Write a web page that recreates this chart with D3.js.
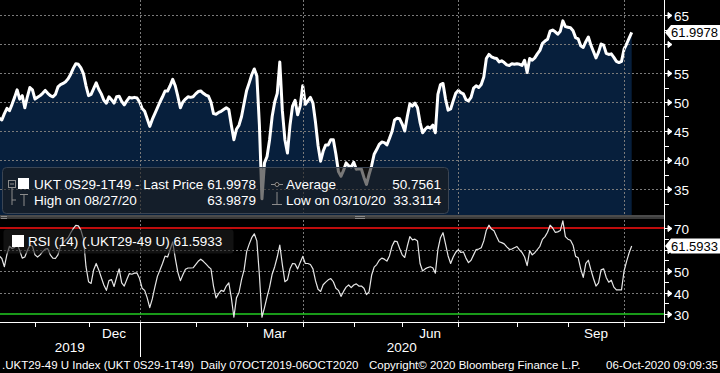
<!DOCTYPE html>
<html><head><meta charset="utf-8">
<script src="https://cdn.jsdelivr.net/npm/d3@7"></script>
<style>body{margin:0;background:#000;overflow:hidden}svg{display:block}text{font-family:"Liberation Sans",Arial,sans-serif}</style>
</head><body>
<svg id="c" width="720" height="373"></svg>
<script>
// ---------- data ----------
const startDate = "2019-10-07";
const endDate = "2020-10-06";
const ukHolidays = ["2019-12-25","2019-12-26","2020-01-01","2020-04-10","2020-04-13","2020-05-08","2020-05-25","2020-08-31"];

const price = [
47.5,47.0,48.0,47.3,47.8,47.2,46.9,48.0,48.9,48.5,
49.6,50.8,52.1,50.5,51.1,49.0,50.9,52.5,52.1,50.5,
50.8,51.1,51.5,52.0,51.5,51.1,50.9,51.3,52.6,53.0,
53.2,53.5,54.0,54.8,55.8,56.6,56.5,55.9,54.9,52.8,
51.1,51.3,52.3,53.3,52.2,51.4,50.3,49.8,50.9,50.4,
49.8,50.9,51.0,50.1,49.5,50.2,50.8,50.7,50.8,50.7,
50.0,48.9,48.4,47.1,45.8,47.0,48.0,49.0,50.0,50.9,
51.9,51.9,52.8,53.9,52.8,51.0,49.0,50.0,50.5,50.9,
50.8,50.9,51.4,51.8,51.9,51.5,51.2,51.0,50.0,48.0,
47.9,48.2,48.4,48.7,49.0,48.7,46.0,43.5,45.3,46.0,
47.5,49.8,52.0,53.3,54.7,55.7,54.5,46.0,33.3114,39.5,
40.6,43.5,47.5,50.0,51.5,56.9,48.5,43.5,41.2,46.0,
49.3,50.3,47.8,49.3,52.8,49.6,50.2,50.8,49.8,46.5,
42.5,39.8,41.5,42.6,42.6,43.5,43.5,41.0,38.0,37.2,
38.2,39.5,39.0,38.8,39.6,38.4,38.5,38.4,37.0,35.8,
37.5,39.0,41.0,41.8,42.7,43.1,43.0,42.6,43.7,44.9,
46.9,47.2,47.1,46.2,45.0,47.5,49.7,49.3,49.8,49.0,
46.5,44.7,45.3,45.7,45.5,46.0,44.7,51.3,53.0,53.2,
50.5,48.6,48.8,50.2,51.5,52.0,51.6,51.4,50.4,50.2,
50.8,52.4,52.8,52.5,53.0,54.3,57.5,58.2,57.8,57.6,
57.5,56.9,57.1,56.8,56.4,56.3,56.6,56.5,56.6,56.5,
56.3,57.2,55.1,57.5,57.2,57.6,58.3,58.9,60.1,60.5,
60.8,62.2,62.4,62.1,61.7,62.2,63.9879,63.0,62.9,62.8,
62.3,61.1,60.9,59.7,59.4,60.4,61.2,59.8,58.7,57.6,
58.6,60.0,59.8,58.4,58.2,58.3,57.7,57.0,56.8,57.0,
59.1,60.0,61.0,61.9978];

const rsi = [
55.0,57.0,54.0,58.0,56.0,57.0,55.8,52.0,57.7,61.5,
60.5,61.0,62.5,59.5,56.0,56.5,59.5,62.0,61.5,57.5,
56.5,57.5,59.0,60.2,60.4,57.5,56.0,55.8,57.5,61.5,
63.1,64.3,65.5,67.8,69.7,71.2,71.0,69.0,65.0,52.0,
45.0,44.2,50.5,53.5,50.5,47.0,43.5,41.0,45.5,46.0,
42.8,47.0,51.0,44.5,43.0,46.0,48.8,48.5,49.0,49.1,
46.5,42.0,41.0,37.5,33.0,37.0,42.5,47.5,50.5,53.5,
56.9,56.5,60.0,63.5,56.0,49.5,45.5,48.3,50.8,51.4,
51.4,51.5,53.0,54.5,55.5,54.5,53.3,52.0,51.0,43.0,
37.5,39.5,41.0,40.5,43.0,44.5,37.5,28.5,37.5,40.0,
46.0,50.5,59.0,62.5,65.5,67.3,64.0,48.0,28.5,33.0,
38.0,42.5,48.5,52.0,56.5,62.0,53.0,45.0,45.9,51.0,
53.5,53.3,51.0,54.0,56.8,53.5,53.5,53.0,51.0,45.5,
41.5,40.5,43.6,44.8,45.9,46.5,45.0,42.0,41.0,38.2,
40.5,42.5,43.5,42.3,43.5,44.0,43.0,43.0,42.0,39.0,
40.3,48.0,51.8,53.0,55.0,56.0,55.5,54.6,57.0,61.5,
63.9,63.7,60.5,57.5,56.3,61.5,66.0,64.5,64.8,64.0,
53.5,50.0,51.0,51.6,52.0,51.5,49.0,60.0,65.5,67.8,
62.5,57.0,53.5,56.5,58.7,59.9,58.6,58.9,56.0,53.9,
55.0,57.5,60.0,60.2,60.8,64.0,69.0,71.3,69.5,68.7,
66.0,63.6,63.2,62.6,61.2,60.1,60.2,60.8,61.4,59.8,
58.6,56.5,52.5,59.5,57.5,58.5,60.0,61.5,64.7,66.0,
68.0,71.3,70.0,68.0,68.2,68.8,73.3,66.0,64.8,64.3,
62.0,56.8,56.2,51.0,47.0,53.5,55.0,50.5,46.5,43.0,
44.5,50.5,51.0,47.0,44.8,45.7,42.5,41.2,41.2,41.2,
50.0,54.5,58.5,61.5933];

const priceMajorTicks = [35,40,45,50,55,60,65];
const priceMinorTicks = [32.5,37.5,42.5,47.5,52.5,57.5,62.5];
const rsiMajorTicks = [30,40,50,60,70];
const rsiMinorTicks = [35,45,55,65];
const rsiGrid = [40,50,60];
const monthLabels = ["Dec","Mar","Jun","Sep"];
const quarterMonths = ["Jan","Apr","Jul","Oct"];
const yearLabels = ["2019","2020"];
const legendTop = {name:"UKT 0S29-1T49 - Last Price", last:"61.9978", avgLabel:"Average", avg:"50.7561",
  highLabel:"High on 08/27/20", high:"63.9879", lowLabel:"Low on 03/10/20", low:"33.3114"};
const rsiLegend = "RSI (14) (.UKT29-49 U) 61.5933";
const lastPrice = 61.9978, lastRsi = 61.5933;
const footerLeft = ".UKT29-49 U Index (UKT 0S29-1T49)  Daily 07OCT2019-06OCT2020";
const footerMid = "Copyright\u00A9 2020 Bloomberg Finance L.P.";
const footerRight = "06-Oct-2020 09:09:35";

// ---------- layout ----------
const axisX = 664, topBottom = 215, rsiTop = 219, rsiBottom = 322;
const parse = d3.utcParse("%Y-%m-%d"), fmt = d3.utcFormat("%Y-%m-%d");
const days = d3.utcDay.range(parse(startDate), d3.utcDay.offset(parse(endDate), 1))
  .filter(d => d.getUTCDay() % 6 !== 0 && !ukHolidays.includes(fmt(d)));
const keys = days.map(fmt);

const x = d3.scalePoint().domain(keys).range([-13.45, 631.7]);
const yP = d3.scaleLinear().domain([35, 65]).range([189, 15]);
const yR = d3.scaleLinear().domain([30, 70]).range([314, 228]);

const monthFirst = d3.groups(days, d => d3.utcFormat("%Y-%m")(d)).map(([k, arr]) => arr[0]);
const mName = d3.utcFormat("%b");

const svg = d3.select("#c");
svg.append("rect").attr("width", 720).attr("height", 373).attr("fill", "#000");
const defs = svg.append("defs");
defs.append("clipPath").attr("id", "cpTop").append("rect").attr("x", 0).attr("y", 0).attr("width", axisX).attr("height", topBottom);
defs.append("clipPath").attr("id", "cpRsi").append("rect").attr("x", 0).attr("y", rsiTop).attr("width", axisX).attr("height", rsiBottom - rsiTop);

const gridCol = "#7a7a7a";

// ---- top panel ----
const gTop = svg.append("g").attr("clip-path", "url(#cpTop)");
gTop.append("path").datum(price)
  .attr("d", d3.area().x((d, i) => x(keys[i])).y0(topBottom).y1(d => yP(d)))
  .attr("fill", "#071f3c");
gTop.selectAll("line.hg").data(priceMajorTicks).join("line")
  .attr("x1", 0).attr("x2", axisX).attr("y1", d => Math.round(yP(d)) + 0.5).attr("y2", d => Math.round(yP(d)) + 0.5)
  .attr("stroke", gridCol).attr("stroke-width", 1).attr("stroke-dasharray", "2,2");

const quarterDays = monthFirst.filter(d => quarterMonths.includes(mName(d)));
svg.append("g").selectAll("line").data(quarterDays).join("line")
  .attr("x1", d => Math.round(x(fmt(d))) + 0.5).attr("x2", d => Math.round(x(fmt(d))) + 0.5)
  .attr("y1", 0).attr("y2", rsiBottom)
  .attr("stroke", gridCol).attr("stroke-dasharray", "2,2");

gTop.append("path").datum(price)
  .attr("d", d3.line().x((d, i) => x(keys[i])).y(d => yP(d)))
  .attr("fill", "none").attr("stroke", "#fff").attr("stroke-width", 3).attr("stroke-linejoin", "round");

// separator
svg.append("rect").attr("x", 0).attr("y", topBottom).attr("width", axisX).attr("height", rsiTop - topBottom).attr("fill", "#4b4b4b");
svg.append("rect").attr("x", 0).attr("y", topBottom + 2).attr("width", axisX).attr("height", 2).attr("fill", "#3a3a3a");
[[1, 7], [355, 365]].forEach(([a, b]) => {
  [216, 218].forEach(yy => svg.append("line").attr("x1", a).attr("x2", b).attr("y1", yy + 0.5).attr("y2", yy + 0.5).attr("stroke", "#8a8a8a"));
});

// ---- RSI panel ----
const gR = svg.append("g").attr("clip-path", "url(#cpRsi)");
gR.selectAll("line.rg").data(rsiGrid).join("line")
  .attr("x1", 0).attr("x2", axisX).attr("y1", d => Math.round(yR(d)) + 0.5).attr("y2", d => Math.round(yR(d)) + 0.5)
  .attr("stroke", gridCol).attr("stroke-dasharray", "2,2");
gR.append("line").attr("x1", 0).attr("x2", axisX).attr("y1", yR(70)).attr("y2", yR(70)).attr("stroke", "#ff1010").attr("stroke-width", 1.5);
gR.append("line").attr("x1", 0).attr("x2", axisX).attr("y1", yR(30)).attr("y2", yR(30)).attr("stroke", "#22cc22").attr("stroke-width", 1.5);
gR.append("path").datum(rsi)
  .attr("d", d3.line().x((d, i) => x(keys[i])).y(d => yR(d)))
  .attr("fill", "none").attr("stroke", "#e6e6e6").attr("stroke-width", 1.2).attr("stroke-linejoin", "round");

// ---- legends ----
const lg = svg.append("g");
lg.append("rect").attr("x", 2.5).attr("y", 167.5).attr("width", 446).attr("height", 46).attr("rx", 4)
  .attr("fill", "rgba(30,30,30,0.6)").attr("stroke", "#3a4452");
const iconCol = "#8c8c8c";
lg.append("rect").attr("x", 8.5).attr("y", 180.5).attr("width", 7).attr("height", 7).attr("fill", "none").attr("stroke", iconCol);
lg.append("line").attr("x1", 10).attr("x2", 14).attr("y1", 184).attr("y2", 184).attr("stroke", iconCol);
lg.append("path").attr("d", "M12,188V205M12,200H16").attr("stroke", iconCol).attr("fill", "none");
lg.append("rect").attr("x", 18).attr("y", 178).attr("width", 11).attr("height", 11).attr("fill", "#fff");
lg.append("path").attr("d", "M20,194.5H28M24,194.5V206").attr("stroke", iconCol).attr("fill", "none");
lg.append("path").attr("d", "M271,184.5H283").attr("stroke", iconCol);
lg.append("circle").attr("cx", 277).attr("cy", 184.5).attr("r", 2).attr("fill", "#111").attr("stroke", iconCol);
lg.append("path").attr("d", "M277,192V204.5M272,204.5H282").attr("stroke", iconCol).attr("fill", "none");
const lt = (t, xx, yy, anchor) => lg.append("text").attr("x", xx).attr("y", yy).attr("fill", "#fff")
  .attr("font-size", 13.5).attr("text-anchor", anchor || "start").text(t);
lt(legendTop.name, 34, 189); lt(legendTop.last, 256, 189, "end");
lt(legendTop.avgLabel, 286, 189); lt(legendTop.avg, 441, 189, "end");
lt(legendTop.highLabel, 34, 205); lt(legendTop.high, 256, 205, "end");
lt(legendTop.lowLabel, 286, 205); lt(legendTop.low, 441, 205, "end");

lg.append("rect").attr("x", 3.5).attr("y", 229.5).attr("width", 230).attr("height", 24).attr("rx", 3)
  .attr("fill", "rgba(30,30,30,0.6)");
lg.append("rect").attr("x", 12).attr("y", 235).attr("width", 12).attr("height", 12).attr("fill", "#fff");
lt(rsiLegend, 28, 246);

// ---- right axis ----
const ax = svg.append("g");
ax.append("line").attr("x1", axisX + 0.5).attr("x2", axisX + 0.5).attr("y1", 0).attr("y2", rsiBottom + 0.5).attr("stroke", "#fff");
function majorTicks(vals, sc, boxVal) {
  vals.forEach(v => {
    const yy = Math.round(sc(v)) + 0.5;
    ax.append("path").attr("d", `M${axisX},${yy}H${axisX + 5}M${axisX + 4},${yy - 3}L${axisX + 8},${yy}L${axisX + 4},${yy + 3}Z`)
      .attr("stroke", "#fff").attr("fill", "#fff").attr("stroke-width", 1);
    if (Math.abs(sc(v) - sc(boxVal)) > 15)
      ax.append("text").attr("x", axisX + 10).attr("y", yy + 5).attr("fill", "#fff").attr("font-size", 13.5).text(v);
  });
}
function minorTicks(vals, sc) {
  vals.forEach(v => {
    const yy = Math.round(sc(v)) + 0.5;
    ax.append("line").attr("x1", axisX).attr("x2", axisX + 5).attr("y1", yy).attr("y2", yy).attr("stroke", "#fff");
  });
}
majorTicks(priceMajorTicks, yP, lastPrice); minorTicks(priceMinorTicks, yP);
majorTicks(rsiMajorTicks, yR, lastRsi); minorTicks(rsiMinorTicks, yR);

function valueBox(v, sc) {
  const yy = sc(v);
  ax.append("path").attr("d", `M${axisX + 1},${yy}L${axisX + 7},${yy - 7.5}H720V${yy + 7.5}H${axisX + 7}Z`).attr("fill", "#fff");
  ax.append("text").attr("x", axisX + 7).attr("y", yy + 4.5).attr("fill", "#000").attr("font-size", 13).text(v.toFixed(4));
}
valueBox(lastPrice, yP);
valueBox(lastRsi, yR);

// ---- bottom axis ----
const bx = svg.append("g");
bx.append("line").attr("x1", 0).attr("x2", axisX + 1).attr("y1", rsiBottom + 0.5).attr("y2", rsiBottom + 0.5).attr("stroke", "#fff");
bx.selectAll("line.mt").data(monthFirst).join("line")
  .attr("x1", d => Math.round(x(fmt(d))) + 0.5).attr("x2", d => Math.round(x(fmt(d))) + 0.5)
  .attr("y1", rsiBottom).attr("y2", d => mName(d) === "Jan" ? 357 : rsiBottom + 5)
  .attr("stroke", "#fff");
monthFirst.forEach((d, i) => {
  if (monthLabels.includes(mName(d)) && monthFirst[i + 1]) {
    const cx = (x(fmt(d)) + x(fmt(monthFirst[i + 1]))) / 2;
    bx.append("text").attr("x", cx).attr("y", 338).attr("text-anchor", "middle").attr("fill", "#fff").attr("font-size", 13.5).text(mName(d));
  }
});
const janX = x(fmt(monthFirst.find(d => mName(d) === "Jan")));
bx.append("text").attr("x", (Math.max(0, x(keys[0])) + janX) / 2).attr("y", 352).attr("text-anchor", "middle").attr("fill", "#fff").attr("font-size", 13.5).text(yearLabels[0]);
bx.append("text").attr("x", (janX + axisX) / 2).attr("y", 352).attr("text-anchor", "middle").attr("fill", "#fff").attr("font-size", 13.5).text(yearLabels[1]);

// footer
const ft = (t, xx, anchor) => svg.append("text").attr("x", xx).attr("y", 369).attr("fill", "#fff").attr("font-size", 11.5)
  .attr("text-anchor", anchor).attr("xml:space", "preserve").style("white-space", "pre").text(t);
ft(footerLeft, 2, "start");
ft(footerMid, 369, "start");
ft(footerRight, 718, "end");
</script>
</body></html>
